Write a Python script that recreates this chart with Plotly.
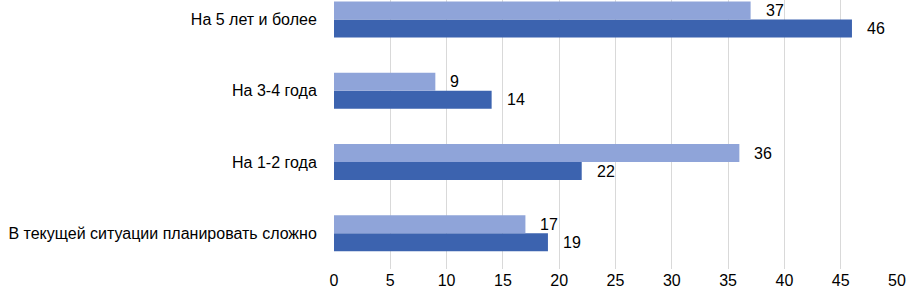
import plotly.graph_objects as go

categories = ["В текущей ситуации планировать сложно", "На 1-2 года", "На 3-4 года", "На 5 лет и более"]
series_light = [17, 36, 9, 37]
series_dark = [19, 22, 14, 46]
x_ticks = [0, 5, 10, 15, 20, 25, 30, 35, 40, 45, 50]

LIGHT = "#8FA4D9"
DARK = "#3C63AF"
FONT = "Liberation Sans"

fig = go.Figure()
fig.add_trace(go.Bar(y=categories, x=series_dark, orientation="h", marker_color=DARK,
                     marker_line_width=0, showlegend=False))
fig.add_trace(go.Bar(y=categories, x=series_light, orientation="h", marker_color=LIGHT,
                     marker_line_width=0, showlegend=False))

for cat, v in zip(categories, series_light):
    fig.add_annotation(x=v, y=cat, text=str(v), showarrow=False, xanchor="left", yanchor="middle",
                       xshift=13, yshift=9, font=dict(size=16, color="#000000", family=FONT))
for cat, v in zip(categories, series_dark):
    fig.add_annotation(x=v, y=cat, text=str(v), showarrow=False, xanchor="left", yanchor="middle",
                       xshift=13, yshift=-9, font=dict(size=16, color="#000000", family=FONT))

fig.update_layout(
    width=906, height=296,
    margin=dict(l=334, r=9, t=0, b=27),
    barmode="group", bargap=0.495, bargroupgap=0,
    plot_bgcolor="white", paper_bgcolor="white",
    font=dict(family=FONT, size=16, color="#000000"),
    xaxis=dict(range=[0, 50], tickvals=x_ticks, showgrid=True, gridcolor="#D9D9D9", gridwidth=1,
               zeroline=False, showline=False, ticks="", tickfont=dict(size=16), automargin=False),
    yaxis=dict(type="category", categoryorder="array", categoryarray=categories,
               range=[-0.5, 3.273], showgrid=False, zeroline=False, showline=False,
               ticks="outside", ticklen=13, tickcolor="rgba(0,0,0,0)", tickfont=dict(size=16),
               automargin=False),
)

fig.write_html("out.html", config={"displayModeBar": False},
               post_script="document.body.style.margin='0';")
